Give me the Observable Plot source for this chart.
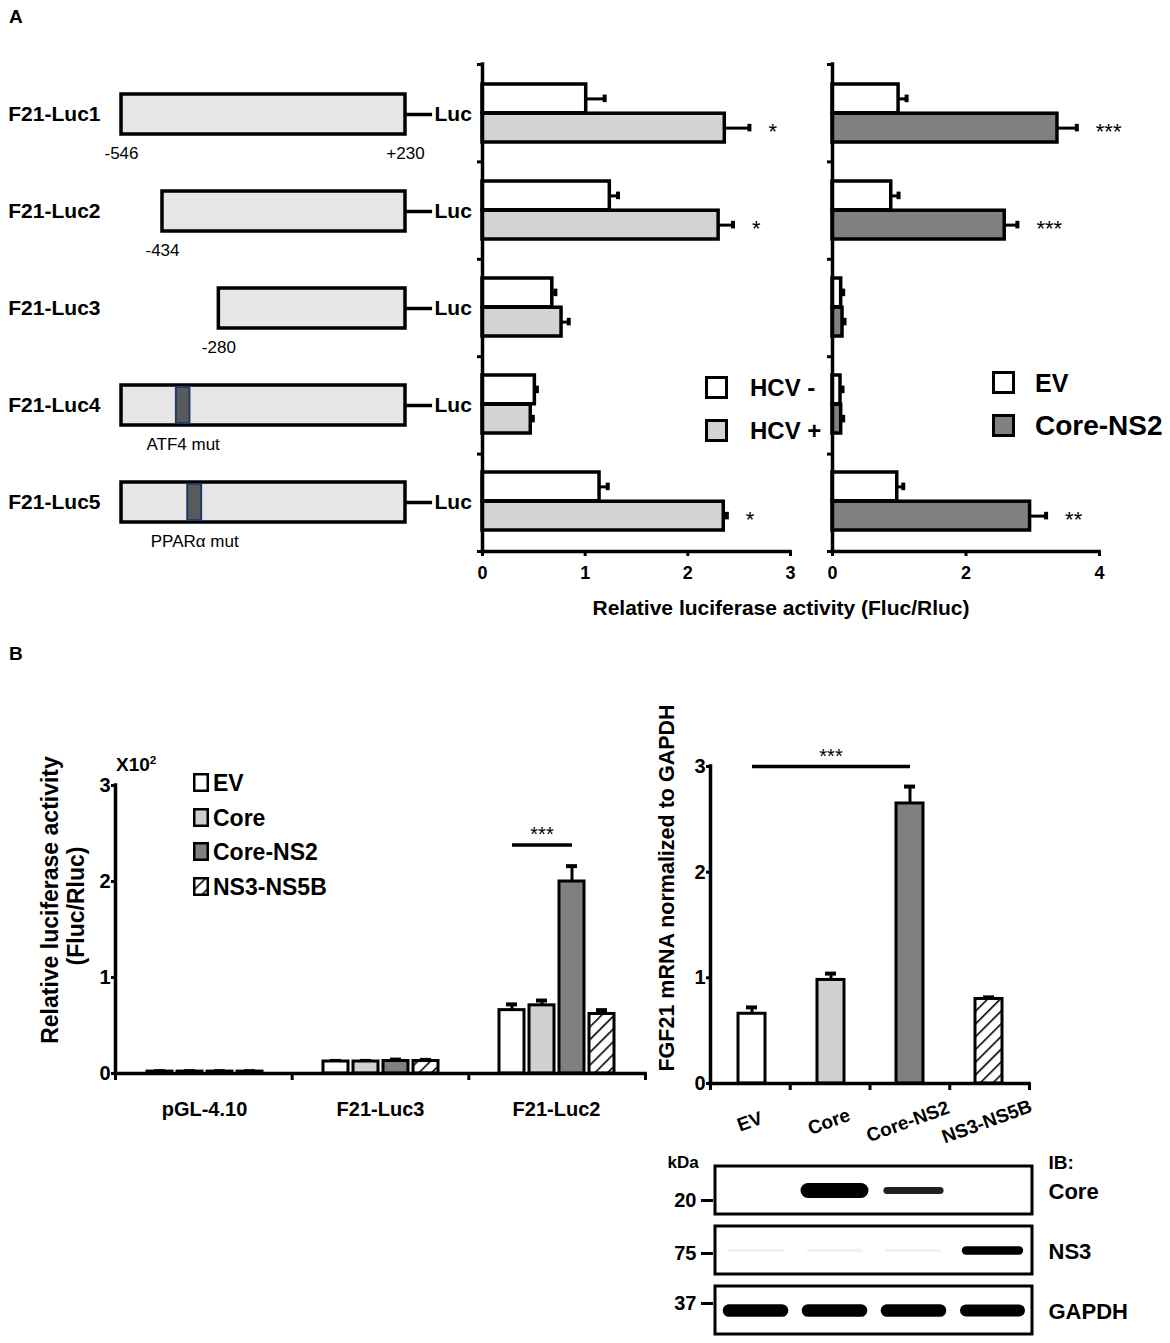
<!DOCTYPE html>
<html><head><meta charset="utf-8">
<script src="https://cdn.jsdelivr.net/npm/d3@7"></script>
<script src="https://cdn.jsdelivr.net/npm/@observablehq/plot@0.6"></script>
<style>
html,body{margin:0;padding:0;background:#fff;}
#fig{position:relative;width:1170px;height:1343px;font-family:"Liberation Sans",Arial,Helvetica,sans-serif;color:#000;overflow:hidden;background:#fff;}
.t{position:absolute;white-space:nowrap;line-height:1;color:#000;}
.t sup{font-size:0.62em;vertical-align:0.55em;line-height:0;}
</style></head><body>
<div id="fig">
<svg width="0" height="0" style="position:absolute;left:0;top:0"><defs>
<pattern id="hatch" patternUnits="userSpaceOnUse" width="9" height="9" patternTransform="rotate(45)">
<rect width="9" height="9" fill="#fff"/><line x1="0" y1="0" x2="0" y2="9" stroke="#000" stroke-width="3.2"/></pattern>
</defs></svg>
</div>
<script>
// ---------------- DATA ----------------
// Panel A: promoter constructs
const constructs = ["F21-Luc1","F21-Luc2","F21-Luc3","F21-Luc4","F21-Luc5"];
const constructStart = [-546,-434,-280,-546,-546];
const constructEnd = [230,230,230,230,230];
const bpLabelConstruct = ["F21-Luc1","F21-Luc1","F21-Luc2","F21-Luc3"];
const bpLabelPos = [-546,230,-434,-280];
const bpLabelText = ["-546","+230","-434","-280"];
const mutConstruct = ["F21-Luc4","F21-Luc5"];
const mutName = ["ATF4 mut","PPARα mut"];
const mutFrom = [-396,-365];
const mutTo = [-359,-327];

// Panel A: HCV - / HCV +
const hcvNeg = [1.01,1.24,0.68,0.51,1.14];
const hcvNegErr = [0.18,0.08,0.03,0.02,0.08];
const hcvPos = [2.36,2.30,0.77,0.47,2.35];
const hcvPosErr = [0.24,0.14,0.07,0.02,0.03];
const hcvStars = ["*","*","","","*"];

// Panel A: EV / Core-NS2
const evA = [0.99,0.88,0.13,0.12,0.97];
const evAErr = [0.12,0.11,0.03,0.03,0.09];
const ns2A = [3.37,2.58,0.15,0.13,2.96];
const ns2AErr = [0.29,0.19,0.03,0.03,0.24];
const ns2Stars = ["***","***","","","**"];

// Panel B left: relative luciferase activity (x10^2)
const reporters = ["pGL-4.10","F21-Luc3","F21-Luc2"];
const conditions = ["EV","Core","Core-NS2","NS3-NS5B"];
const lucEV = [0.02,0.125,0.66];
const lucEVErr = [0.004,0.006,0.06];
const lucCore = [0.02,0.125,0.71];
const lucCoreErr = [0.004,0.006,0.05];
const lucNS2 = [0.02,0.13,2.00];
const lucNS2Err = [0.004,0.015,0.16];
const lucNS3 = [0.02,0.13,0.62];
const lucNS3Err = [0.004,0.012,0.04];

// Panel B right: FGF21 mRNA
const fgf21 = [0.66,0.98,2.65,0.80];
const fgf21Err = [0.06,0.06,0.16,0.015];

// Western blot
const blotRows = ["Core","NS3","GAPDH"];
const ladder = ["20","75","37"];
const coreSignal = [0,1,0.35,0];
const ns3Signal = [0.02,0.02,0.02,0.45];
const gapdhSignal = [0.8,0.8,0.8,0.75];

// ---------------- LAYOUT / STYLE ----------------
const W = 1170, H = 1343;
const FONT = "'Liberation Sans', Arial, Helvetica, sans-serif";
const SVG_STYLE = `position:absolute;left:0;top:0;background:transparent;overflow:visible;max-width:none;font-family:${FONT};`;
const fig = document.getElementById("fig");
const condFill = ["#ffffff","#d0d0d0","#808080","url(#hatch)"];
function frame(l, r, t, b) {
  return {width: W, height: H, marginLeft: l, marginRight: W - r, marginTop: t, marginBottom: H - b, style: SVG_STYLE};
}
function add(p) { fig.appendChild(p); }
function label(text, x, y, {size = 20, weight = "bold", anchor = "start", rotate = 0, html = false} = {}) {
  const d = document.createElement("div");
  d.className = "t";
  if (html) d.innerHTML = text; else d.textContent = text;
  d.style.fontSize = size + "px";
  d.style.fontWeight = weight;
  d.style.left = x + "px";
  d.style.top = y + "px";
  const tx = anchor === "middle" ? "-50%" : anchor === "end" ? "-100%" : "0";
  d.style.transform = `translate(${tx},-50%)` + (rotate ? ` rotate(${rotate}deg)` : "");
  fig.appendChild(d);
}
function swatch(x, y, w, h, fill, sw = 3) {
  const ns = "http://www.w3.org/2000/svg";
  const s = document.createElementNS(ns, "svg");
  s.setAttribute("width", w); s.setAttribute("height", h);
  s.style.position = "absolute"; s.style.left = x + "px"; s.style.top = y + "px";
  const r = document.createElementNS(ns, "rect");
  r.setAttribute("x", sw / 2); r.setAttribute("y", sw / 2);
  r.setAttribute("width", w - sw); r.setAttribute("height", h - sw);
  r.setAttribute("fill", fill); r.setAttribute("stroke", "#000"); r.setAttribute("stroke-width", sw);
  s.appendChild(r);
  fig.appendChild(s);
}
function axes({left, right, top, bottom, xDomain, yDomain, xTicks, yTicks, xLabels, yLabels,
               xTickSize = 5, yTickSize = 5, xPad = 8, yPad = 3, fontSize = 19, fontWeight = "normal", lineWidth = 3.5}) {
  return Plot.plot({
    ...frame(left, right, top, bottom),
    x: {domain: xDomain},
    y: {domain: yDomain},
    marks: [
      Plot.axisX({ticks: xTicks, tickSize: xTickSize, tickPadding: xPad, label: null,
        tickFormat: xLabels ? (d => String(d)) : (() => ""), fontSize, fontWeight, strokeWidth: 3}),
      Plot.axisY({ticks: yTicks, tickSize: yTickSize, tickPadding: yPad, label: null,
        tickFormat: yLabels ? (d => String(d)) : (() => ""), fontSize, fontWeight, strokeWidth: 3}),
      Plot.ruleX([xDomain[0]], {strokeWidth: lineWidth, strokeLinecap: "square"}),
      Plot.ruleY([yDomain[0]], {strokeWidth: lineWidth, strokeLinecap: "square"})
    ]
  });
}

// ---------------- PANEL A: constructs ----------------
const A_TOP = 64, A_BOT = 551;
const constructRows = constructs.map((c, i) => ({name: c, start: constructStart[i], end: constructEnd[i]}));
const bpRows = bpLabelConstruct.map((c, i) => ({construct: c, pos: bpLabelPos[i], label: bpLabelText[i]}));
const mutRows = mutConstruct.map((c, i) => ({construct: c, name: mutName[i], from: mutFrom[i], to: mutTo[i]}));
const LINKER = 74;
add(Plot.plot({
  ...frame(121, 405, A_TOP, A_BOT),
  x: {domain: [-546, 230], axis: null},
  y: {type: "band", domain: constructs, paddingInner: 0.59, paddingOuter: 0.295, axis: null},
  marks: [
    Plot.ruleY(constructRows, {y: "name", x1: "end", x2: d => d.end + LINKER, strokeWidth: 3.5}),
    Plot.barX(constructRows, {y: "name", x1: "start", x2: "end", fill: "#e6e6e6", stroke: "#000", strokeWidth: 3.5}),
    Plot.barX(mutRows, {y: "construct", x1: "from", x2: "to", fill: "#5a5a5a", stroke: "#22396b", strokeWidth: 2, insetTop: 2, insetBottom: 2}),
    Plot.text(constructRows, {y: "name", frameAnchor: "left", text: "name", textAnchor: "end", dx: -21, fontSize: 21, fontWeight: "bold"}),
    Plot.text(constructRows, {y: "name", x: "end", text: () => "Luc", textAnchor: "start", dx: 29, fontSize: 21, fontWeight: "bold"}),
    Plot.text(bpRows, {y: "construct", x: "pos", text: "label", dy: 39, fontSize: 17}),
    Plot.text(mutRows, {y: "construct", x: d => (d.from + d.to) / 2, text: "name", dy: 39, fontSize: 17})
  ]
}));

// ---------------- PANEL A: bar charts ----------------
const stepA = (A_BOT - A_TOP) / constructs.length;
const bwA = stepA * 0.6;
function hbars({left, right, xMax, rows, fillA, fillB}) {
  return Plot.plot({
    ...frame(left, right, A_TOP, A_BOT),
    x: {domain: [0, xMax], axis: null},
    y: {type: "band", domain: constructs, paddingInner: 0.4, paddingOuter: 0.2, axis: null},
    marks: [
      Plot.ruleY(rows, {y: "construct", x1: "a", x2: d => d.a + d.aErr, dy: -bwA / 4, strokeWidth: 3}),
      Plot.tickX(rows, {y: "construct", x: d => d.a + d.aErr, insetTop: bwA / 4 - 4, insetBottom: 3 * bwA / 4 - 4, strokeWidth: 4}),
      Plot.ruleY(rows, {y: "construct", x1: "b", x2: d => d.b + d.bErr, dy: bwA / 4, strokeWidth: 3}),
      Plot.tickX(rows, {y: "construct", x: d => d.b + d.bErr, insetTop: 3 * bwA / 4 - 4, insetBottom: bwA / 4 - 4, strokeWidth: 4}),
      Plot.barX(rows, {y: "construct", x: "a", fill: fillA, stroke: "#000", strokeWidth: 3.5, insetBottom: bwA / 2}),
      Plot.barX(rows, {y: "construct", x: "b", fill: fillB, stroke: "#000", strokeWidth: 3.5, insetTop: bwA / 2}),
      Plot.text(rows, {y: "construct", x: d => d.b + d.bErr, text: "star", textAnchor: "start", dx: 19, dy: bwA / 4 + 4, fontSize: 22})
    ]
  });
}
const hcvRows = constructs.map((c, i) => ({construct: c, a: hcvNeg[i], aErr: hcvNegErr[i], b: hcvPos[i], bErr: hcvPosErr[i], star: hcvStars[i]}));
const ns2Rows = constructs.map((c, i) => ({construct: c, a: evA[i], aErr: evAErr[i], b: ns2A[i], bErr: ns2AErr[i], star: ns2Stars[i]}));
add(hbars({left: 482, right: 790, xMax: 3, rows: hcvRows, fillA: "#ffffff", fillB: "#d3d3d3"}));
add(axes({left: 482, right: 790, top: A_TOP, bottom: A_BOT, xDomain: [0, 3], yDomain: [0, 5],
  xTicks: [0, 1, 2, 3], yTicks: [0, 1, 2, 3, 4, 5], xLabels: true, yLabels: false, xPad: 10, fontSize: 18, fontWeight: "bold"}));
add(hbars({left: 832, right: 1099, xMax: 4, rows: ns2Rows, fillA: "#ffffff", fillB: "#808080"}));
add(axes({left: 832, right: 1099, top: A_TOP, bottom: A_BOT, xDomain: [0, 4], yDomain: [0, 5],
  xTicks: [0, 2, 4], yTicks: [0, 1, 2, 3, 4, 5], xLabels: true, yLabels: false, xPad: 10, fontSize: 18, fontWeight: "bold"}));

// Panel A text & legends
label("A", 9, 16, {size: 19});
label("Relative luciferase activity (Fluc/Rluc)", 781, 607, {size: 21, anchor: "middle"});
swatch(705, 376, 23, 23, "#ffffff");
swatch(705, 419, 23, 23, "#d3d3d3");
label("HCV -", 750, 388, {size: 24});
label("HCV +", 750, 431, {size: 24});
swatch(992, 371, 23, 23, "#ffffff");
swatch(992, 414, 23, 23, "#808080");
label("EV", 1035, 383, {size: 25});
label("Core-NS2", 1035, 426, {size: 28});

// ---------------- PANEL B left ----------------
const lucVals = [lucEV, lucCore, lucNS2, lucNS3];
const lucErrs = [lucEVErr, lucCoreErr, lucNS2Err, lucNS3Err];
const lucRows = reporters.flatMap((r, i) => conditions.map((c, j) => ({reporter: r, condition: c, value: lucVals[j][i], err: lucErrs[j][i]})));
const sigB1 = [{reporter: "F21-Luc2", from: "EV", to: "Core-NS2", mid: "Core", y: 2.38, label: "***"}];
add(Plot.plot({
  ...frame(115, 645, 785, 1073),
  fx: {domain: reporters, paddingInner: 0.32, paddingOuter: 0.16, axis: null},
  x: {domain: conditions, paddingInner: 0.17, paddingOuter: 0.085, axis: null},
  y: {domain: [0, 3], axis: null},
  color: {type: "ordinal", domain: conditions, range: condFill},
  marks: [
    Plot.ruleX(lucRows, {fx: "reporter", x: "condition", y1: "value", y2: d => d.value + d.err, strokeWidth: 3}),
    Plot.tickY(lucRows, {fx: "reporter", x: "condition", y: d => d.value + d.err, insetLeft: 7, insetRight: 7, strokeWidth: 4}),
    Plot.barY(lucRows, {fx: "reporter", x: "condition", y: "value", fill: "condition", stroke: "#000", strokeWidth: 3}),
    Plot.text(reporters, {fx: d => d, text: d => d, frameAnchor: "bottom", dy: 42, fontSize: 20, fontWeight: "bold"}),
    Plot.link(sigB1, {fx: "reporter", x1: "from", x2: "to", y1: "y", y2: "y", strokeWidth: 3.5}),
    Plot.text(sigB1, {fx: "reporter", x: "mid", y: "y", text: "label", dy: -10, fontSize: 20})
  ]
}));
add(axes({left: 115, right: 645, top: 785, bottom: 1073, xDomain: [0, 3], yDomain: [0, 3],
  xTicks: [0, 1, 2, 3], yTicks: [0, 1, 2, 3], xLabels: false, yLabels: true,
  xTickSize: 7, yTickSize: 4, yPad: 1, fontSize: 20, fontWeight: "bold"}));
label("X10<sup>2</sup>", 116, 764, {size: 19, html: true});
label("Relative luciferase activity", 50, 900, {size: 23, anchor: "middle", rotate: -90});
label("(Fluc/Rluc)", 76, 906, {size: 23, anchor: "middle", rotate: -90});
const legendYs = [782, 817, 851, 886];
conditions.forEach((c, i) => {
  swatch(193, legendYs[i] - 9, 16, 19, condFill[i], 2.5);
  label(c, 213, legendYs[i] + 1, {size: 23});
});
label("B", 9, 653, {size: 19});

// ---------------- PANEL B right ----------------
const fgfRows = conditions.map((c, i) => ({condition: c, value: fgf21[i], err: fgf21Err[i]}));
const sigB2 = [{from: "EV", to: "Core-NS2", mid: "Core", y: 3.0, label: "***"}];
add(Plot.plot({
  ...frame(710, 1029, 766, 1083),
  x: {domain: conditions, paddingInner: 0.66, paddingOuter: 0.33, axis: null},
  y: {domain: [0, 3], axis: null},
  color: {type: "ordinal", domain: conditions, range: condFill},
  marks: [
    Plot.ruleX(fgfRows, {x: "condition", y1: "value", y2: d => d.value + d.err, strokeWidth: 3}),
    Plot.tickY(fgfRows, {x: "condition", y: d => d.value + d.err, insetLeft: 8, insetRight: 8, strokeWidth: 4}),
    Plot.barY(fgfRows, {x: "condition", y: "value", fill: "condition", stroke: "#000", strokeWidth: 3}),
    Plot.text(conditions, {x: d => d, text: d => d, frameAnchor: "bottom", dy: 44, rotate: -20, fontSize: 19, fontWeight: "bold"}),
    Plot.link(sigB2, {x1: "from", x2: "to", y1: "y", y2: "y", strokeWidth: 3.5}),
    Plot.text(sigB2, {x: "mid", y: "y", text: "label", dy: -10, fontSize: 20})
  ]
}));
add(axes({left: 710, right: 1029, top: 766, bottom: 1083, xDomain: [0, 4], yDomain: [0, 3],
  xTicks: [0, 1, 2, 3, 4], yTicks: [0, 1, 2, 3], xLabels: false, yLabels: true,
  xTickSize: 7, yTickSize: 4, yPad: 1, fontSize: 20, fontWeight: "bold"}));
label("FGF21 mRNA normalized to GAPDH", 668, 888, {size: 21.5, anchor: "middle", rotate: -90});

// ---------------- Western blot ----------------
const blotSignals = {Core: coreSignal, NS3: ns3Signal, GAPDH: gapdhSignal};
const blotBands = blotRows.flatMap(r => conditions.map((c, i) => ({row: r, lane: c, signal: blotSignals[r][i]}))).filter(d => d.signal > 0);
const ladderOffset = [10, 3, -7];
const blotFrame = [715, 1032];
add(Plot.plot({
  ...frame(blotFrame[0], blotFrame[1], 1160, 1340),
  x: {domain: conditions, padding: 0, axis: null},
  y: {type: "band", domain: blotRows, paddingInner: 0.2, paddingOuter: 0.1, axis: null},
  marks: [
    Plot.cell(blotRows, {y: d => d, fill: "#fff", stroke: "#000", strokeWidth: 3}),
    Plot.tickY(blotBands, {x: "lane", y: "row", stroke: "#000", strokeLinecap: "round",
      strokeWidth: d => 3 + d.signal * 12, strokeOpacity: d => Math.min(1, d.signal * 2.5), insetLeft: 13, insetRight: 13}),
    ...blotRows.map((r, i) => Plot.ruleY([r], {y: d => d, insetLeft: -14, insetRight: (blotFrame[1] - blotFrame[0]) + 2, dy: ladderOffset[i], strokeWidth: 3})),
    ...blotRows.map((r, i) => Plot.text([r], {y: d => d, text: () => ladder[i], frameAnchor: "left", textAnchor: "end", dx: -19, dy: ladderOffset[i], fontSize: 20, fontWeight: "bold"})),
    Plot.text(["kDa"], {y: () => "Core", text: d => d, frameAnchor: "left", textAnchor: "start", dx: -48, dy: -28, fontSize: 17, fontWeight: "bold"}),
    Plot.text(["IB:"], {y: () => "Core", text: d => d, frameAnchor: "right", textAnchor: "start", dx: 16, dy: -28, fontSize: 19, fontWeight: "bold"}),
    Plot.text(blotRows, {y: d => d, text: d => d, frameAnchor: "right", textAnchor: "start", dx: 16, dy: 1, fontSize: 22, fontWeight: "bold"})
  ]
}));
</script>
</body></html>
